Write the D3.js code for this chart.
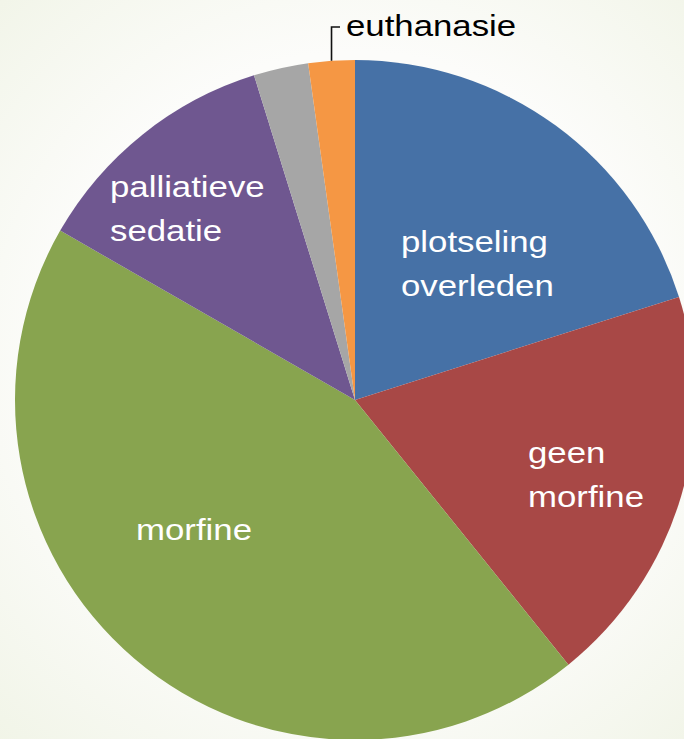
<!DOCTYPE html>
<html>
<head>
<meta charset="utf-8">
<title>pie</title>
<script src="https://d3js.org/d3.v7.min.js"></script>
<style>
body { margin: 0; overflow: hidden; }
svg { display: block; }
text { font-family: "Liberation Sans", Arial, sans-serif; }
</style>
</head>
<body>
<svg id="chart" width="684" height="739"></svg>
<script>
// data
var categories = ["plotseling overleden", "geen morfine", "morfine", "palliatieve sedatie", "overig", "euthanasie"];
var values = [20.1, 19.1, 44.1, 11.9, 2.6, 2.2];
var colors = ["#4671a6", "#a84846", "#88a44f", "#6f5790", "#a6a6a6", "#f59744"];
// label lines inside slices (empty = no label inside)
var labelLines = [["plotseling", "overleden"], ["geen", "morfine"], ["morfine"], ["palliatieve", "sedatie"], [], []];

// layout
var width = 684, height = 739;
var cx = 355, cy = 400, radius = 340;
var fontSize = 30, stretch = 1.16, lineGap = 44;
var labelPos = [[401, 252], [528, 463], [136, 540], [110, 197]];

var svg = d3.select("#chart");

// soft background
var grad = svg.append("defs").append("radialGradient")
	.attr("id", "bg").attr("gradientUnits", "userSpaceOnUse")
	.attr("cx", cx).attr("cy", cy - 40).attr("r", 560);
grad.append("stop").attr("offset", "0.55").attr("stop-color", "#fcfcfa");
grad.append("stop").attr("offset", "1").attr("stop-color", "#eff3e4");
svg.append("rect").attr("width", width).attr("height", height).attr("fill", "url(#bg)");

var pie = d3.pie().sort(null).value(function(d){ return d; });
var arcs = pie(values);
var arc = d3.arc().innerRadius(0).outerRadius(radius);
var edgeArc = d3.arc().innerRadius(radius).outerRadius(radius);

var g = svg.append("g").attr("transform", "translate(" + cx + "," + cy + ")");
g.selectAll("path").data(arcs).enter().append("path")
	.attr("d", arc)
	.attr("fill", function(d, i){ return colors[i]; });

// labels inside slices
labelLines.forEach(function(lines, i){
	if (!lines.length) return;
	var p = labelPos[i];
	var t = svg.append("text")
		.attr("transform", "translate(" + p[0] + "," + p[1] + ") scale(" + stretch + ",1)")
		.attr("fill", "#ffffff")
		.style("font-size", fontSize + "px");
	lines.forEach(function(l, j){
		t.append("tspan").attr("x", 0).attr("y", j * lineGap).text(l);
	});
});

// euthanasie leader label
var last = arcs[arcs.length - 1];
var e = edgeArc.centroid(last);
var ex = cx + e[0], ey = cy + e[1];
svg.append("path")
	.attr("d", "M" + ex + "," + ey + "V27H340")
	.attr("fill", "none").attr("stroke", "#111").attr("stroke-width", 1.6);
svg.append("text")
	.attr("transform", "translate(346,36) scale(" + stretch + ",1)")
	.attr("fill", "#000")
	.style("font-size", fontSize + "px")
	.text(categories[categories.length - 1]);
</script>
</body>
</html>
